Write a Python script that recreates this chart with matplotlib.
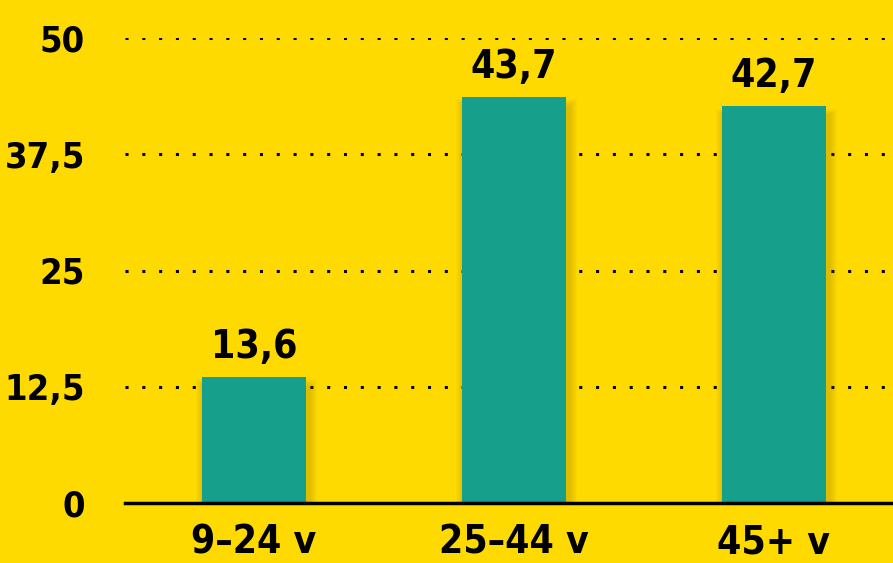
import matplotlib
matplotlib.use("Agg")
import matplotlib.pyplot as plt
from matplotlib import font_manager

categories = ["9–24 v", "25–44 v", "45+ v"]
values = [13.6, 43.7, 42.7]
yticks = [0, 12.5, 25, 37.5, 50]
ytick_labels = ["0", "12,5", "25", "37,5", "50"]

bg = "#FFDA00"
bar_color = "#16A08B"

# narrowest bold face that is installed
fonts = font_manager.fontManager.ttflist
stretch = "normal"
fam = "DejaVu Sans"
if any(f.name == "Liberation Sans Narrow" for f in fonts):
    fam = "Liberation Sans Narrow"
elif any(f.name == "DejaVu Sans" and f.stretch == "condensed" for f in fonts):
    stretch = "condensed"
plt.rcParams["font.family"] = [fam, "DejaVu Sans"]
plt.rcParams["font.weight"] = "bold"
plt.rcParams["font.stretch"] = stretch

fs = 28

fig = plt.figure(figsize=(8.93, 5.63), dpi=100, facecolor=bg)
ax = fig.add_axes([125 / 893, 60 / 563, 768 / 893, 465 / 563], facecolor=bg)

x = list(range(len(categories)))
w = 0.4

# soft shadow behind the bars
for i in range(8):
    grow = 0.004 * (i + 1)
    ax.bar([xi + 0.01 for xi in x], [v + 0.1 * (i + 1) - 0.6 for v in values],
           width=w + 2 * grow, bottom=-0.5, color="#8a6f00", alpha=0.035,
           zorder=2, linewidth=0)

ax.bar(x, values, width=w, color=bar_color, zorder=3, linewidth=0)

for xi, v in zip(x, values):
    ax.text(xi, v + 2.0, f"{v:.1f}".replace(".", ","), ha="center", va="baseline",
            fontsize=fs, fontweight="bold", color="black")

ax.set_xlim(-0.496, 2.458)
ax.set_ylim(0, 50)
ax.set_yticks(yticks)
ax.set_yticklabels(ytick_labels)
ax.set_xticks(x)
ax.set_xticklabels(categories)
ax.tick_params(axis="y", length=0, pad=29, labelsize=26)
ax.tick_params(axis="x", length=0, pad=15, labelsize=fs)

for t in yticks[1:]:
    ax.axhline(t, color="black", linestyle=(0, (1, 4.5)), linewidth=2.2, zorder=1)

for s in ["top", "right", "left"]:
    ax.spines[s].set_visible(False)
ax.spines["bottom"].set_linewidth(2.5)
ax.spines["bottom"].set_zorder(4)

fig.savefig("out.png", dpi=100, facecolor=bg)
